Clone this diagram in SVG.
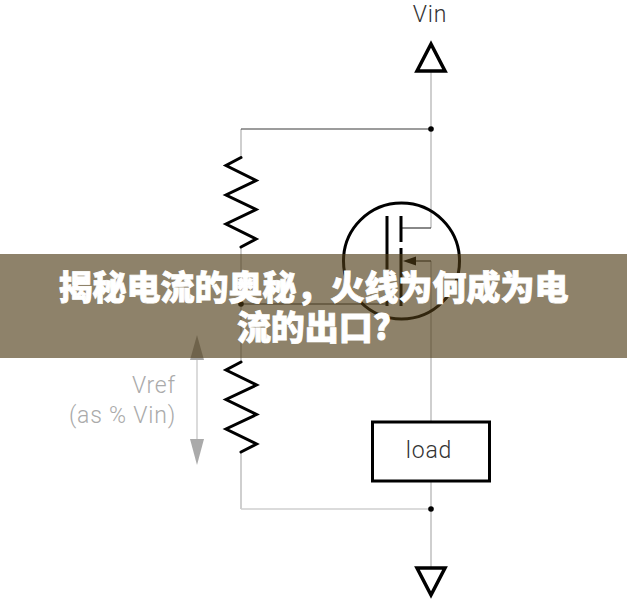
<svg xmlns="http://www.w3.org/2000/svg" width="627" height="612" viewBox="0 0 627 612">
<style>
.w{fill:none;stroke-linecap:butt}
.g{stroke:#c4c4c4;stroke-width:1.6}
.d{stroke:#3a3a3a;stroke-width:1.2}
.l{stroke:#cfcfcf;stroke-width:1.5}
.s{fill:none;stroke:#000;stroke-width:3.500;stroke-linejoin:miter}
.r{fill:none;stroke:#000;stroke-width:3;stroke-linecap:round;stroke-linejoin:miter}
.t{font-family:"Roboto","Liberation Sans",sans-serif;font-weight:300;letter-spacing:.8px}
.h{font-family:"Noto Sans CJK SC","Liberation Sans",sans-serif;font-weight:900;font-size:34px;fill:#fff;stroke:#fff;stroke-width:.8;text-anchor:middle}
</style>
<rect width="627" height="612" fill="#fff"/>
<g id="connectors">
<path class="w g" d="M241 129V157M241 247V362M241 452V509"/>
<path class="w d" d="M241 129H431"/>
<path class="w l" d="M241 509H431"/>
<path class="w g" d="M431 72V228M431 261V422M431 481V567"/>
<path class="w d" d="M241 304H387"/>
<path class="w d" d="M401 228H431"/>
<path class="w d" d="M414 261H431"/>
<circle cx="431" cy="129" r="2.800" fill="#000"/>
<circle cx="431" cy="509" r="2.800" fill="#000"/>
<circle cx="241" cy="304" r="2.800" fill="#000"/>
</g>
<g id="vin">
<path class="s" d="M431 44L417 71H445Z"/>
<text class="t" x="430" y="22" font-size="23" fill="#333" text-anchor="middle" letter-spacing="0">Vin</text>
</g>
<g id="r1">
<path class="r" d="M241 157.500L226 165.500L256 180.500L226 195L256 209.500L226 224L256 239L241 247"/>
</g>
<g id="r2">
<path class="r" d="M241 362L226 370L256.500 385L226 399.500L256.500 414.500L226 429L256.500 444L241 452"/>
</g>
<g id="mosfet">
<circle cx="401.500" cy="261" r="58" fill="none" stroke="#000" stroke-width="3"/>
<path class="w" stroke="#000" stroke-width="3" d="M387 216V306M401 216V242M401 248V306"/>
<path d="M403 261L416 256.500V265.500Z" fill="#000"/>
</g>
<g id="load">
<rect x="372.500" y="422" width="117" height="59" fill="#fff" stroke="#000" stroke-width="3"/>
<text class="t" x="429" y="458" font-size="23" fill="#333" text-anchor="middle">load</text>
</g>
<g id="ground">
<path class="s" d="M417 568H445L431 595Z"/>
</g>
<g id="vref">
<path class="w l" d="M197 355V445" stroke-width="1"/>
<path d="M197 335L204 360H190Z" fill="#aaa"/>
<path d="M197 465L204 439H190Z" fill="#aaa"/>
<text class="t" x="176" y="393" font-size="23" fill="#aaa" text-anchor="end">Vref</text>
<text class="t" x="176" y="423" font-size="23" fill="#aaa" text-anchor="end">(as % Vin)</text>
</g>
<g id="banner">
<rect x="0" y="254" width="627" height="104" fill="rgb(78,60,22)" fill-opacity="0.64"/>
<text class="h" x="313.500" y="300">揭秘电流的奥秘，火线为何成为电</text>
<text class="h" x="314" y="340">流的出口?</text>
</g>
</svg>
